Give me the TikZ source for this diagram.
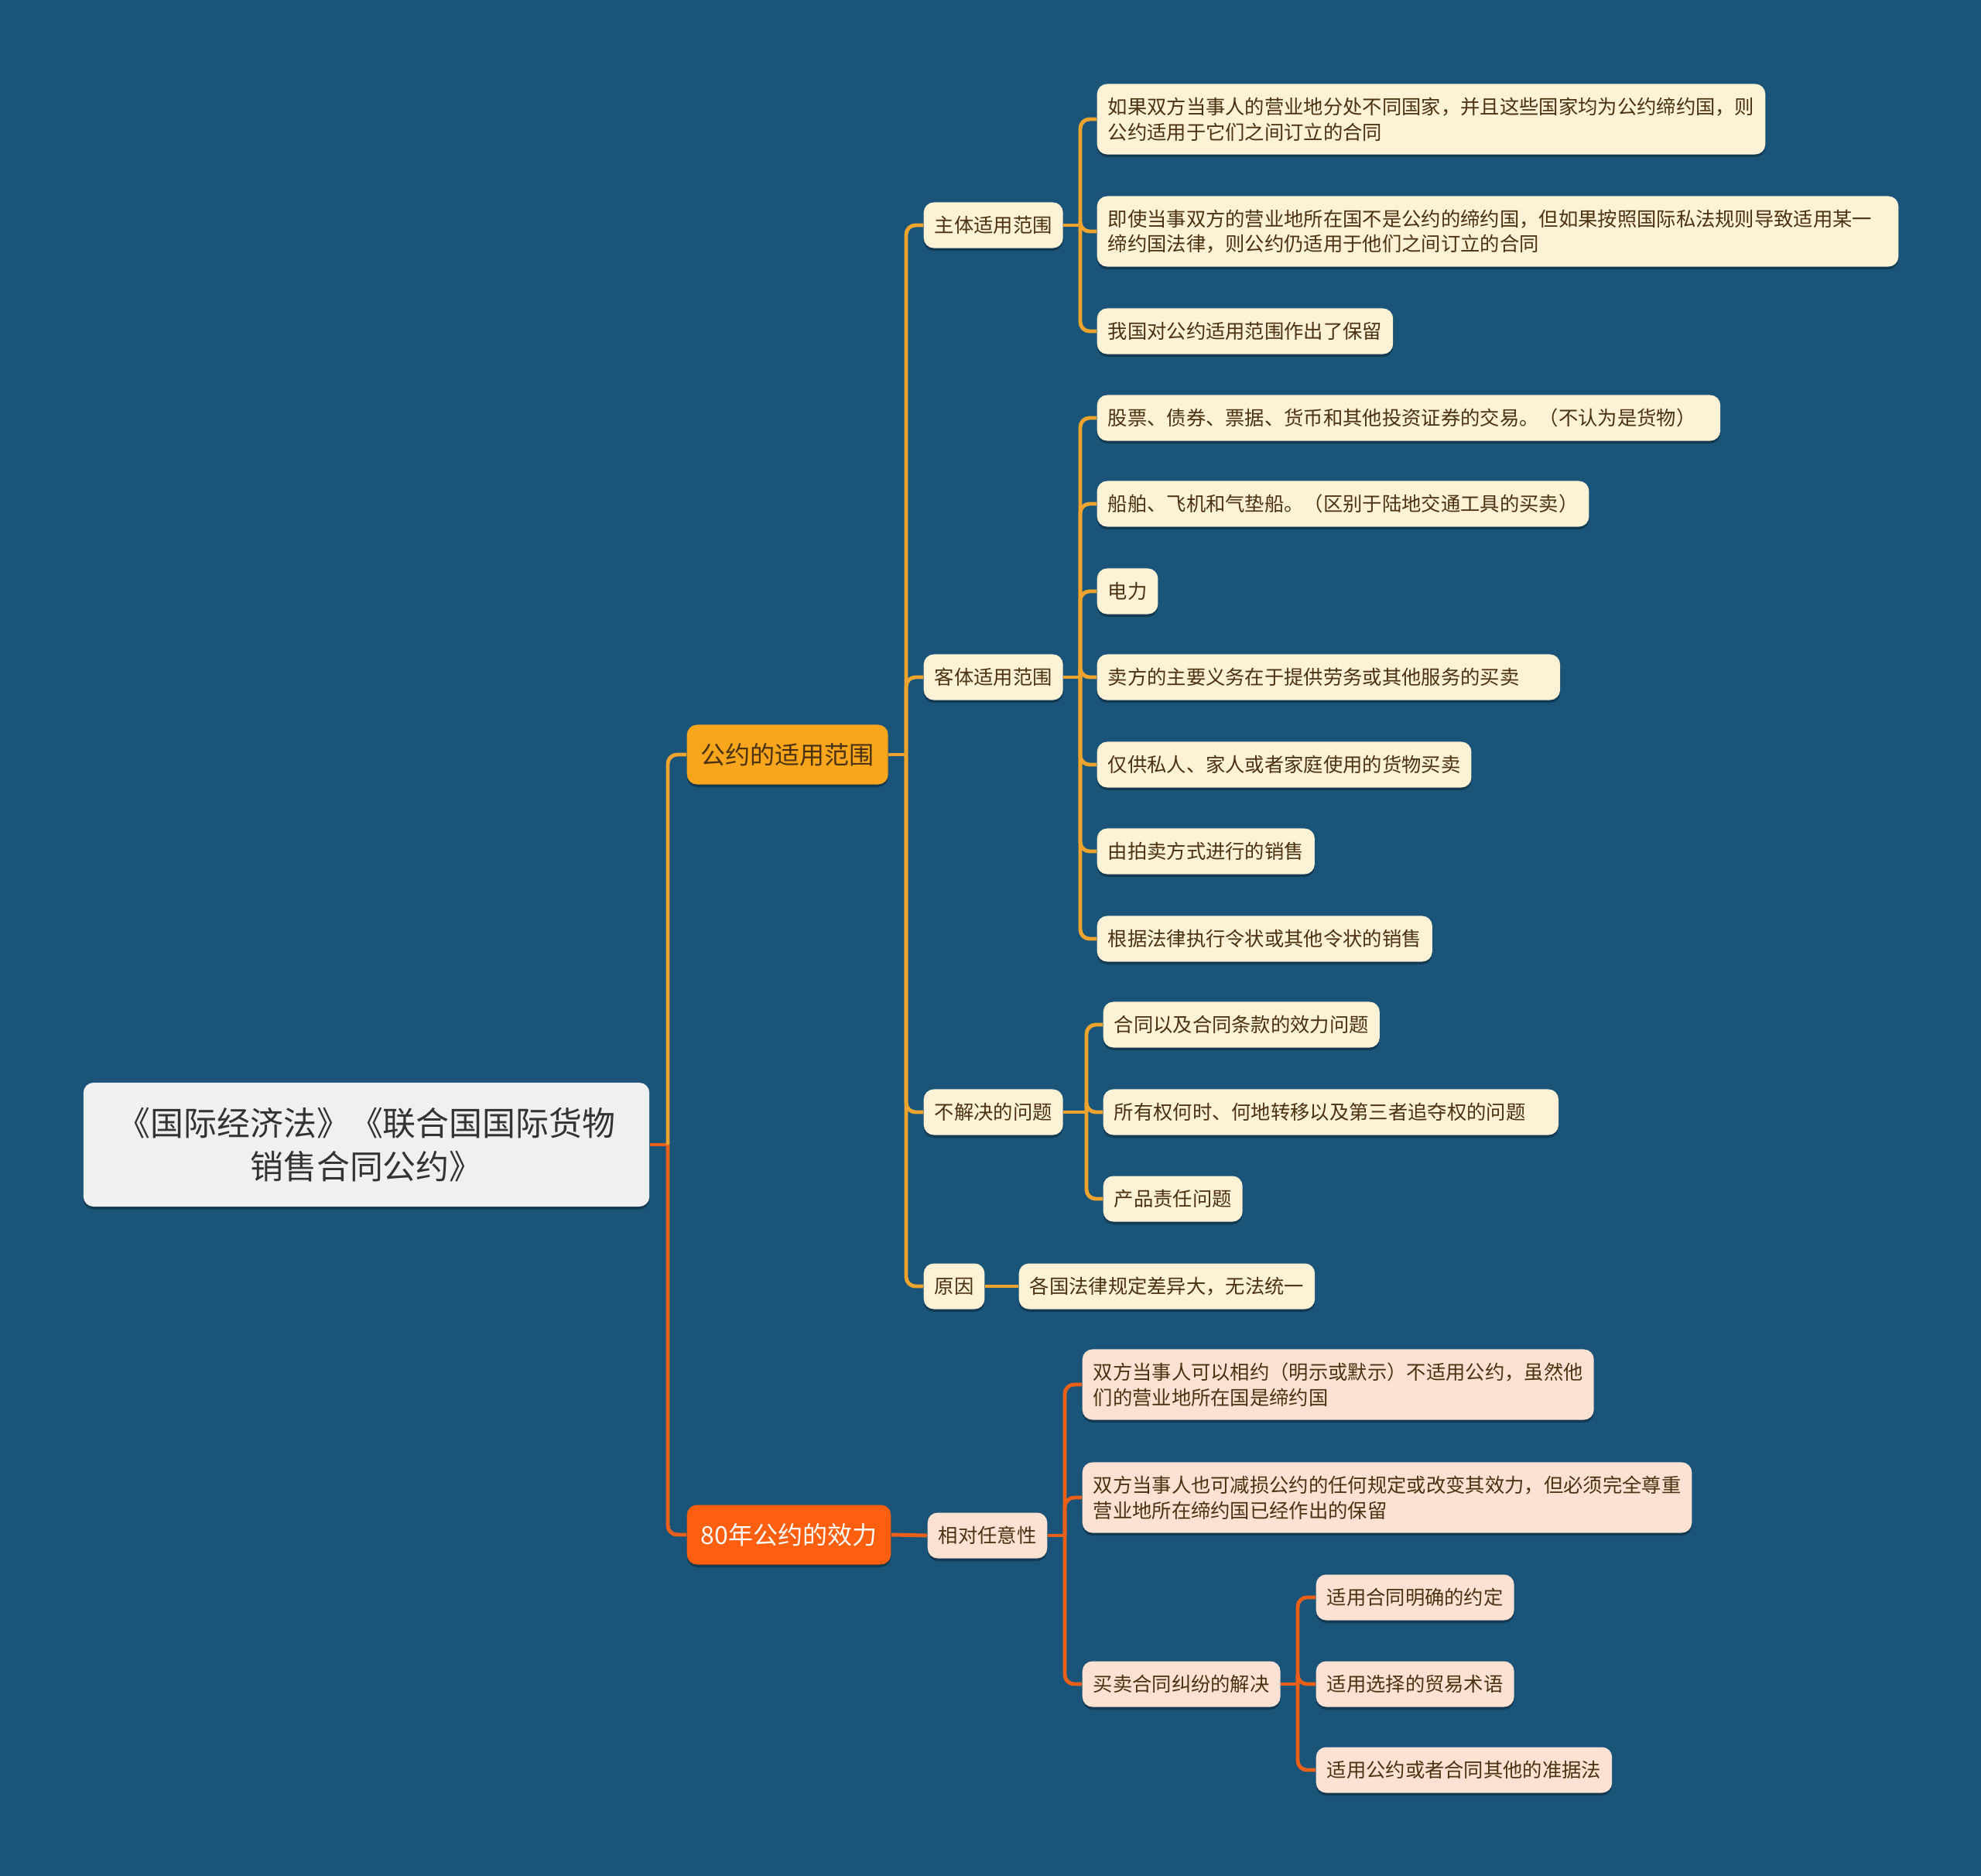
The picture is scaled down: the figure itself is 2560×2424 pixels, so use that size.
\documentclass[tikz,border=0pt]{standalone}
\usepackage{fontspec}
\setmainfont{Noto Sans CJK SC}
\usepackage{tikz}
\usetikzlibrary{positioning, shadows}

\definecolor{bgblue}{HTML}{1A5478}
\definecolor{rootfill}{HTML}{F0F0F0}
\definecolor{rootink}{HTML}{333333}
\definecolor{amberfill}{HTML}{F9A61C}
\definecolor{amberline}{HTML}{EDA42E}
\definecolor{orangefill}{HTML}{FF5F0F}
\definecolor{orangeline}{HTML}{EA5F1A}
\definecolor{cream}{HTML}{FDF1D6}
\definecolor{peach}{HTML}{FDE1D2}
\definecolor{brownink}{HTML}{4A3212}

\begin{document}
\begin{tikzpicture}[x=0.01cm, y=-0.01cm,
      % Boxes
      box/.style={rounded corners=0.13cm, anchor=west, inner xsep=0.14cm,
      inner ysep=0pt, minimum height=0.59cm, align=left,
      font=\fontsize{7.2pt}{9.3pt}\selectfont, drop shadow={shadow xshift=0pt,
      shadow yshift=-0.035cm, opacity=0.3, fill=black}},
      twoline/.style={minimum height=0.91cm},
      creambox/.style={box, fill=cream, text=brownink},
      peachbox/.style={box, fill=peach, text=brownink},
      mainbox/.style={box, inner xsep=0.18cm, minimum height=0.77cm,
      font=\fontsize{9.1pt}{11pt}\selectfont},
      rootbox/.style={rounded corners=0.13cm, fill=rootfill, text=rootink,
      minimum width=7.31cm, minimum height=1.6cm, align=center,
      font=\fontsize{12.2pt}{15.8pt}\selectfont, drop shadow={shadow
      xshift=0pt, shadow yshift=-0.035cm, opacity=0.3, fill=black}},
      % Connectors
      linkamber/.style={draw=amberline, line width=1.4pt, rounded corners=0.12cm},
      linkorange/.style={draw=orangeline, line width=1.4pt, rounded corners=0.12cm} ]

    % Background
    \fill[bgblue] (0,0) rectangle (2560,2424);
    \useasboundingbox (0,0) rectangle (2560,2424);

    % Root
    \node[rootbox] (root) at (473.5,1479) {《国际经济法》《联合国国际货物\\销售合同公约》};

    % Main branches
    \node[mainbox, fill=amberfill, text=brownink] (appl) at (887,975) {公约的适用范围};
    \node[mainbox, fill=orangefill, text=white] (eff) at (887,1983) {80年公约的效力};

    % Second level
    \node[creambox] (subj) at (1193,291) {主体适用范围};
    \node[creambox] (obj) at (1193,875) {客体适用范围};
    \node[creambox] (unres) at (1193,1437) {不解决的问题};
    \node[creambox] (cause) at (1193,1662) {原因};
    \node[peachbox] (rel) at (1198,1984) {相对任意性};

    % Subject scope
    \node[creambox, twoline] (s1) at (1417,154) {如果双方当事人的营业地分处不同国家，并且这些国家均为公约缔约国，则\\公约适用于它们之间订立的合同};
    \node[creambox, twoline, text width=10.07cm] (s2) at (1417,299) {即使当事双方的营业地所在国不是公约的缔约国，但如果按照国际私法规则导致适用某一\\缔约国法律，则公约仍适用于他们之间订立的合同};
    \node[creambox] (s3) at (1417,428) {我国对公约适用范围作出了保留};

    % Object scope
    \node[creambox, text width=7.77cm] (o1) at (1417,540) {股票、债券、票据、货币和其他投资证券的交易。（不认为是货物）};
    \node[creambox] (o2) at (1417,651) {船舶、飞机和气垫船。（区别于陆地交通工具的买卖）};
    \node[creambox] (o3) at (1417,764) {电力};
    \node[creambox, text width=5.7cm] (o4) at (1417,875) {卖方的主要义务在于提供劳务或其他服务的买卖};
    \node[creambox] (o5) at (1417,988) {仅供私人、家人或者家庭使用的货物买卖};
    \node[creambox] (o6) at (1417,1100) {由拍卖方式进行的销售};
    \node[creambox] (o7) at (1417,1213) {根据法律执行令状或其他令状的销售};

    % Unresolved issues
    \node[creambox] (u1) at (1425,1324) {合同以及合同条款的效力问题};
    \node[creambox, text width=5.6cm] (u2) at (1425,1437) {所有权何时、何地转移以及第三者追夺权的问题};
    \node[creambox] (u3) at (1425,1549) {产品责任问题};
    \node[creambox] (c1) at (1316,1662) {各国法律规定差异大，无法统一};

    % Relative freedom
    \node[peachbox, twoline] (r1) at (1398,1789) {双方当事人可以相约（明示或默示）不适用公约，虽然他\\们的营业地所在国是缔约国};
    \node[peachbox, twoline] (r2) at (1398,1935) {双方当事人也可减损公约的任何规定或改变其效力，但必须完全尊重\\营业地所在缔约国已经作出的保留};
    \node[peachbox] (disp) at (1398,2176) {买卖合同纠纷的解决};
    \node[peachbox] (d1) at (1700,2064) {适用合同明确的约定};
    \node[peachbox] (d2) at (1700,2176) {适用选择的贸易术语};
    \node[peachbox] (d3) at (1700,2287) {适用公约或者合同其他的准据法};

    % Bus points
    \coordinate (rootbus) at (863,1479); \coordinate (applbus) at (1171,975);
    \coordinate (subjbus) at (1396,291); \coordinate (objbus) at (1396,875);
    \coordinate (unresbus) at (1404,1437); \coordinate (relbus) at (1376,1984);
    \coordinate (dispbus) at (1677,2176);

    % Connectors, first branch
    \draw[linkorange] (root.east) -- (rootbus);
    \draw[linkamber] (rootbus) |- (appl.west); \draw[linkorange] (rootbus) |- (eff.west);
    \draw[linkamber] (appl.east) -- (applbus);
    \foreach \kid in {subj, obj, unres, cause} \draw[linkamber] (applbus) |- (\kid.west);
    \draw[linkamber] (subj.east) -- (subjbus);
    \foreach \kid in {s1, s2, s3} \draw[linkamber] (subjbus) |- (\kid.west);
    \draw[linkamber] (obj.east) -- (objbus);
    \foreach \kid in {o1, o2, o3, o4, o5, o6, o7} \draw[linkamber] (objbus) |- (\kid.west);
    \draw[linkamber] (unres.east) -- (unresbus);
    \foreach \kid in {u1, u2, u3} \draw[linkamber] (unresbus) |- (\kid.west);
    \draw[linkamber] (cause.east) -- (c1.west);

    % Connectors, second branch
    \draw[linkorange] (eff.east) -- (rel.west);
    \draw[linkorange] (rel.east) -- (relbus);
    \foreach \kid in {r1, r2, disp} \draw[linkorange] (relbus) |- (\kid.west);
    \draw[linkorange] (disp.east) -- (dispbus);
    \foreach \kid in {d1, d2, d3} \draw[linkorange] (dispbus) |- (\kid.west);

\end{tikzpicture}
\end{document}
